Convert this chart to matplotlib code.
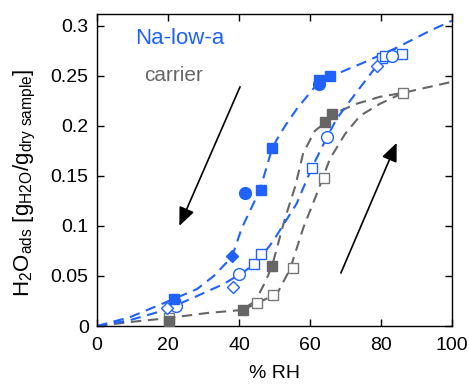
import matplotlib
matplotlib.use("Agg")
import matplotlib.pyplot as plt

plt.rcParams['font.family'] = ['Liberation Sans', 'DejaVu Sans']
plt.rcParams['mathtext.fontset'] = 'custom'
plt.rcParams['mathtext.rm'] = 'Liberation Sans'
plt.rcParams['mathtext.it'] = 'Liberation Sans'

BLUE = '#1f62ff'
GRAY = '#666666'

# ---- dashed guide curves ----
blue_des_x = [0, 9.4, 21.6, 28.2, 32.9, 38.0, 40.8, 45.9, 49.2, 50.6, 53.0, 56.3, 62.3, 65.6, 75.0, 84.4, 93.8, 100]
blue_des_y = [0, 0.009, 0.027, 0.037, 0.050, 0.069, 0.098, 0.136, 0.176, 0.186, 0.200, 0.217, 0.243, 0.249, 0.263, 0.278, 0.295, 0.305]

blue_ads_x = [0, 9.4, 19.2, 28.2, 35.7, 41.3, 45.1, 48.8, 50.7, 56.2, 60.5, 64.7, 67.5, 73.2, 78.8, 81.5, 84.4]
blue_ads_y = [0, 0.006, 0.016, 0.030, 0.042, 0.054, 0.064, 0.081, 0.091, 0.122, 0.158, 0.188, 0.207, 0.234, 0.260, 0.271, 0.278]

gray_des_x = [0, 9.4, 20.2, 31.0, 40.8, 44.6, 47.4, 49.3, 53.0, 55.8, 58.1, 61.4, 64.2, 66.6, 73.1, 79.7, 86.3, 93.8, 100]
gray_des_y = [0, 0.004, 0.008, 0.013, 0.016, 0.025, 0.044, 0.060, 0.108, 0.139, 0.173, 0.195, 0.203, 0.212, 0.222, 0.229, 0.233, 0.239, 0.244]

gray_ads_x = [41.0, 45.1, 50.7, 54.4, 58.1, 61.9, 65.6, 69.9, 74.1, 79.7, 86.3]
gray_ads_y = [0.016, 0.023, 0.032, 0.057, 0.098, 0.132, 0.167, 0.192, 0.210, 0.222, 0.233]

# ---- measured points ----
bf_sq_x = [21.7, 46.1, 49.2, 62.5, 65.6]
bf_sq_y = [0.027, 0.136, 0.178, 0.246, 0.250]
bf_ci_x = [41.6, 62.6]
bf_ci_y = [0.133, 0.242]
bf_di_x = [38.0]
bf_di_y = [0.070]

bo_di_x = [19.6, 38.3, 78.8]
bo_di_y = [0.018, 0.039, 0.260]
bo_ci_x = [22.3, 40.0, 64.9, 83.0]
bo_ci_y = [0.020, 0.052, 0.189, 0.270]
bo_sq_x = [22.0, 44.1, 46.1, 60.6, 80.3, 81.2, 86.0]
bo_sq_y = [0.022, 0.062, 0.072, 0.158, 0.268, 0.270, 0.272]

gf_sq_x = [20.3, 41.1, 49.4, 64.2, 66.1]
gf_sq_y = [0.005, 0.016, 0.060, 0.204, 0.212]
go_sq_x = [20.3, 45.1, 49.6, 55.2, 63.9, 86.2]
go_sq_y = [0.008, 0.023, 0.031, 0.058, 0.148, 0.233]

fig = plt.figure(figsize=(4.69, 3.84), dpi=100)
ax = fig.add_axes([0.2068, 0.151, 0.757, 0.8125])

dash = (0, (5, 3.2))
lw = 1.5
ax.plot(gray_des_x, gray_des_y, color=GRAY, lw=lw, ls=dash, zorder=2)
ax.plot(gray_ads_x, gray_ads_y, color=GRAY, lw=lw, ls=dash, zorder=2)
ax.plot(blue_des_x, blue_des_y, color=BLUE, lw=lw, ls=dash, zorder=2)
ax.plot(blue_ads_x, blue_ads_y, color=BLUE, lw=lw, ls=dash, zorder=2)

ms = 7
ax.plot(go_sq_x, go_sq_y, ls='none', marker='s', ms=ms, mfc='white', mec='#777777', mew=1.0, zorder=3)
ax.plot(gf_sq_x, gf_sq_y, ls='none', marker='s', ms=ms, mfc=GRAY, mec=GRAY, zorder=3)
ax.plot(bo_sq_x, bo_sq_y, ls='none', marker='s', ms=ms, mfc='white', mec=BLUE, mew=1.0, zorder=4)
ax.plot(bo_ci_x, bo_ci_y, ls='none', marker='o', ms=8.5, mfc='white', mec=BLUE, mew=1.0, zorder=4)
ax.plot(bo_di_x, bo_di_y, ls='none', marker='D', ms=6.5, mfc='white', mec=BLUE, mew=1.0, zorder=4)
ax.plot(bf_sq_x, bf_sq_y, ls='none', marker='s', ms=ms, mfc=BLUE, mec=BLUE, zorder=5)
ax.plot(bf_ci_x, bf_ci_y, ls='none', marker='o', ms=8.5, mfc=BLUE, mec=BLUE, zorder=5)
ax.plot(bf_di_x, bf_di_y, ls='none', marker='D', ms=6.5, mfc=BLUE, mec=BLUE, zorder=5)

ax.annotate('', xy=(23.2, 0.100), xytext=(40.3, 0.239),
            arrowprops=dict(arrowstyle='-|>,head_length=0.7,head_width=0.3', lw=1.2,
                            color='black', mutation_scale=16, shrinkA=0, shrinkB=0))
ax.annotate('', xy=(84.4, 0.183), xytext=(68.7, 0.053),
            arrowprops=dict(arrowstyle='-|>,head_length=0.7,head_width=0.3', lw=1.2,
                            color='black', mutation_scale=16, shrinkA=0, shrinkB=0))

ax.text(10.8, 0.2876, 'Na-low-a', color=BLUE, fontsize=16, va='center', ha='left')
ax.text(13.3, 0.25, 'carrier', color=GRAY, fontsize=15, va='center', ha='left')

ax.set_xlim(0, 100)
ax.set_ylim(0, 0.3117)
ax.set_xticks([0, 20, 40, 60, 80, 100])
ax.set_yticks([0, 0.05, 0.1, 0.15, 0.2, 0.25, 0.3])
ax.set_yticklabels(['0', '0.05', '0.1', '0.15', '0.2', '0.25', '0.3'])
ax.tick_params(direction='in', top=True, right=True, labelsize=14, length=5, width=1, pad=6)
ax.tick_params(axis='x', pad=8)
for s in ax.spines.values():
    s.set_linewidth(1.0)

ax.set_xlabel('% RH', fontsize=14, labelpad=8)
ax.set_ylabel(r'H$_2$O$_{\mathrm{ads}}$ [g$_{\mathrm{H2O}}$/g$_{\mathrm{dry\ sample}}$]', fontsize=16)
ax.yaxis.set_label_coords(-0.165, 0.46)

fig.savefig('out.png', dpi=100)
